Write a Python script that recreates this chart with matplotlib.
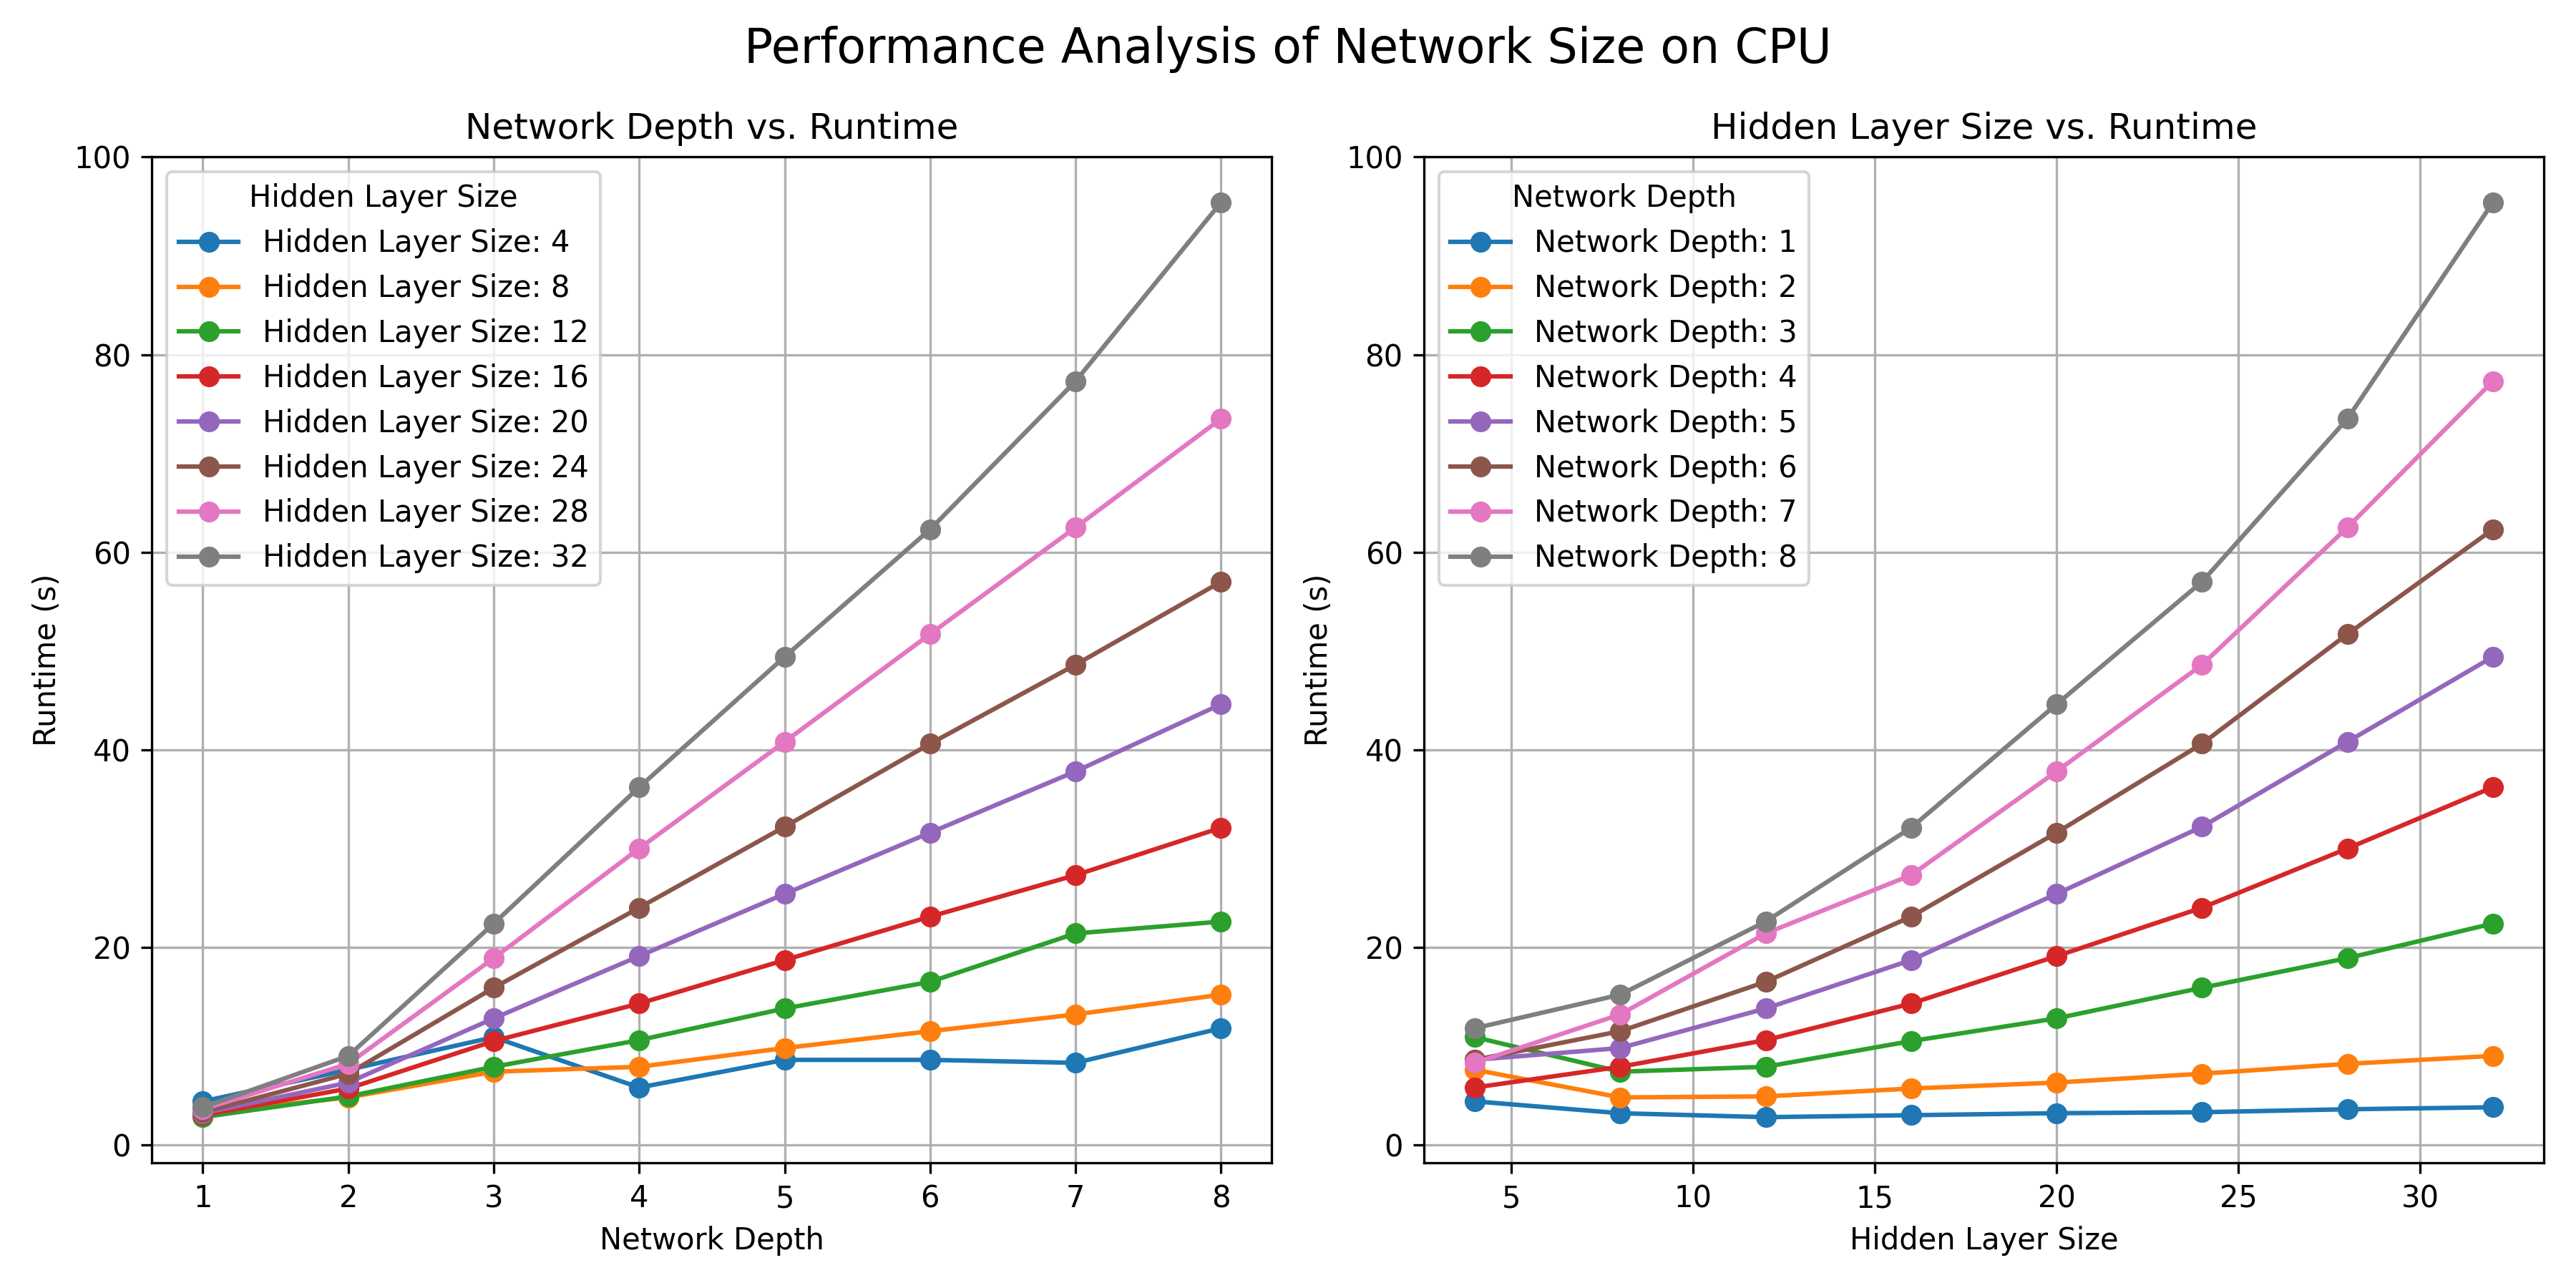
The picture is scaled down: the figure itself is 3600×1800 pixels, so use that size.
import matplotlib
matplotlib.use("Agg")
import matplotlib.pyplot as plt
import numpy as np

depths = [1, 2, 3, 4, 5, 6, 7, 8]
hidden_sizes = [4, 8, 12, 16, 20, 24, 28, 32]

# runtime (s): rows = network depth 1..8, cols = hidden layer size 4..32
runtime_d1 = [4.4, 3.2, 2.8, 3.0, 3.2, 3.3, 3.6, 3.8]
runtime_d2 = [7.6, 4.8, 4.9, 5.7, 6.3, 7.2, 8.2, 9.0]
runtime_d3 = [10.9, 7.4, 7.9, 10.5, 12.8, 15.9, 18.9, 22.4]
runtime_d4 = [5.8, 7.9, 10.6, 14.3, 19.1, 24.0, 30.0, 36.2]
runtime_d5 = [8.6, 9.8, 13.8, 18.7, 25.4, 32.2, 40.8, 49.4]
runtime_d6 = [8.6, 11.5, 16.5, 23.1, 31.6, 40.6, 51.7, 62.3]
runtime_d7 = [8.3, 13.2, 21.4, 27.3, 37.8, 48.6, 62.5, 77.3]
runtime_d8 = [11.8, 15.2, 22.6, 32.1, 44.6, 57.0, 73.5, 95.4]

R = np.array([runtime_d1, runtime_d2, runtime_d3, runtime_d4,
              runtime_d5, runtime_d6, runtime_d7, runtime_d8])

fig, (ax1, ax2) = plt.subplots(1, 2, figsize=(12, 6), dpi=300)

for j, h in enumerate(hidden_sizes):
    ax1.plot(depths, R[:, j], marker="o", label=f"Hidden Layer Size: {h}")
ax1.set_title("Network Depth vs. Runtime")
ax1.set_xlabel("Network Depth")
ax1.set_ylabel("Runtime (s)")
ax1.legend(title="Hidden Layer Size", loc="upper left")
ax1.grid(True)

for i, d in enumerate(depths):
    ax2.plot(hidden_sizes, R[i, :], marker="o", label=f"Network Depth: {d}")
ax2.set_title("Hidden Layer Size vs. Runtime")
ax2.set_xlabel("Hidden Layer Size")
ax2.set_ylabel("Runtime (s)")
ax2.legend(title="Network Depth", loc="upper left")
ax2.grid(True)

fig.suptitle("Performance Analysis of Network Size on CPU", fontsize=16)
fig.tight_layout()
fig.savefig("out.png")
